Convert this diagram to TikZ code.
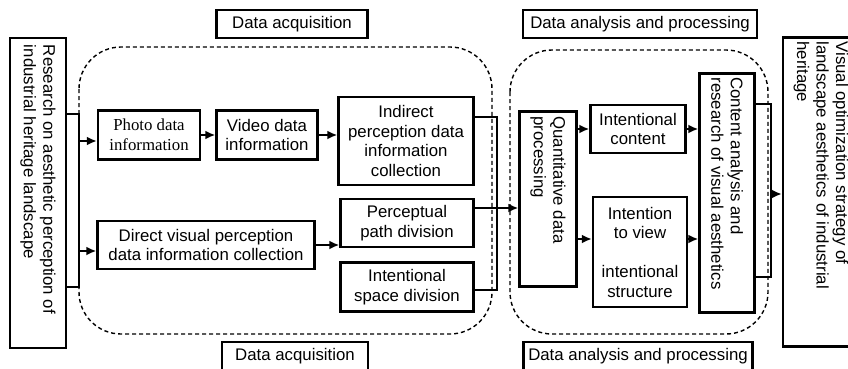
\documentclass[tikz,border=0pt]{standalone}
\usepackage{fontspec}
\setmainfont{Liberation Sans}
\newfontfamily\photofont{Liberation Serif}
\usetikzlibrary{arrows.meta}
\tikzstyle{block} = [rectangle, draw, line width=2.4pt, align=center, inner sep=2pt]
\tikzstyle{tag} = [rectangle, draw, line width=2.4pt, minimum height=28pt, inner sep=2pt]
\tikzstyle{line} = [draw, line width=2.2pt, -{Latex[length=10pt,width=9pt]}]
\tikzstyle{bracket} = [draw, line width=2.2pt]
\tikzstyle{group} = [draw, line width=1.4pt, dash pattern=on 4pt off 3pt,
    rounded corners=42pt]
\newcommand{\vtext}[2]{\rotatebox{-90}{\parbox{#1}{\raggedright #2}}}

\begin{document}
\begin{tikzpicture}[x=1pt, y=-1pt, font=\fontsize{16.8}{19.5}\selectfont]
                \useasboundingbox (0,0) rectangle (848,369);
                \draw [group] (79,47) rectangle (492,334);
                \draw [group] (510,50) rectangle (768,334);
                \node [tag, minimum width=151pt] at (292,24) (acqtop) {Data acquisition};
                \node [tag, minimum width=146pt] at (295,356) (acqbot) {Data acquisition};
                \node [tag, minimum width=234pt] at (640,24) (anatop) {Data analysis and processing};
                \node [tag, minimum width=229pt] at (638,356) (anabot) {Data analysis and processing};
                \node [block, minimum width=56pt, minimum height=310pt] at (38,193) (research)
                    {\vtext{296pt}{Research on aesthetic perception of\\ industrial heritage landscape}};
                \node [block, minimum width=102pt, minimum height=49pt, font=\photofont\fontsize{16.8}{19.5}\selectfont] at (149,135) (photo) {Photo data\\ information};
                \node [block, minimum width=101pt, minimum height=49pt] at (267,135) (video) {Video data\\ information};
                \node [block, minimum width=135pt, minimum height=88pt] at (406,141) (indirect) {Indirect\\ perception data\\ information\\ collection};
                \node [block, minimum width=217pt, minimum height=48pt] at (206,245) (direct) {Direct visual perception\\ data information collection};
                \node [block, minimum width=133pt, minimum height=48pt] at (407,223) (percept) {Perceptual\\ path division};
                \node [block, minimum width=133pt, minimum height=49pt] at (407,287) (space) {Intentional\\ space division};
                \node [block, minimum width=57pt, minimum height=175pt] at (548,199) (quant)
                    {\vtext{165pt}{Quantitative data\\ processing}};
                \node [block, minimum width=95pt, minimum height=48pt] at (638,129) (content) {Intentional\\ content};
                \node [block, minimum width=94pt, minimum height=110pt] at (640,252) (view) {Intention\\ to view\\[19.5pt] intentional\\ structure};
                \node [block, minimum width=55pt, minimum height=239pt] at (727,193) (analysis)
                    {\vtext{231pt}{Content analysis and\\ research of visual aesthetics}};
                \node [block, minimum width=76pt, minimum height=309pt] at (821,192) (strategy)
                    {\vtext{301pt}{Visual optimization strategy of\\ landscape aesthetics of industrial\\ heritage}};
                \coordinate (inTop) at (79,114);
                \coordinate (inBot) at (79,287);
                \coordinate (acqTop) at (497,117);
                \coordinate (acqBot) at (497,290);
                \coordinate (anaTop) at (771,104);
                \coordinate (anaBot) at (771,277);
                \path [bracket] (research.east |- inTop) -- (inTop) -- (inBot) -- (research.east |- inBot);
                \path [bracket] (indirect.east |- acqTop) -- (acqTop) -- (acqBot) -- (space.east |- acqBot);
                \path [bracket] (analysis.east |- anaTop) -- (anaTop) -- (anaBot) -- (analysis.east |- anaBot);
                \path [line] (inTop |- 0,141) -- ([yshift=-6pt]photo.west);
                \path [line] (inTop |- 0,251) -- ([yshift=-6pt]direct.west);
                \path [line] (photo) -- (video);
                \path [line] (video.east) -- (video.east -| indirect.west);
                \path [line] (direct.east) -- (direct.east -| percept.west);
                \path [line] ([yshift=15pt]percept.east) -- ([yshift=15pt]percept.east -| quant.west);
                \path [line] (quant.east |- content) -- (content);
                \path [line] ([yshift=13pt]view.west -| quant.east) -- ([yshift=13pt]view.west);
                \path [line] (content) -- (content -| analysis.west);
                \path [line] ([yshift=13pt]view.east) -- ([yshift=13pt]view.east -| analysis.west);
                \path [line] (anaTop |- 0,194) -- (anaTop |- 0,194 -| strategy.west);
            \end{tikzpicture}
\end{document}
